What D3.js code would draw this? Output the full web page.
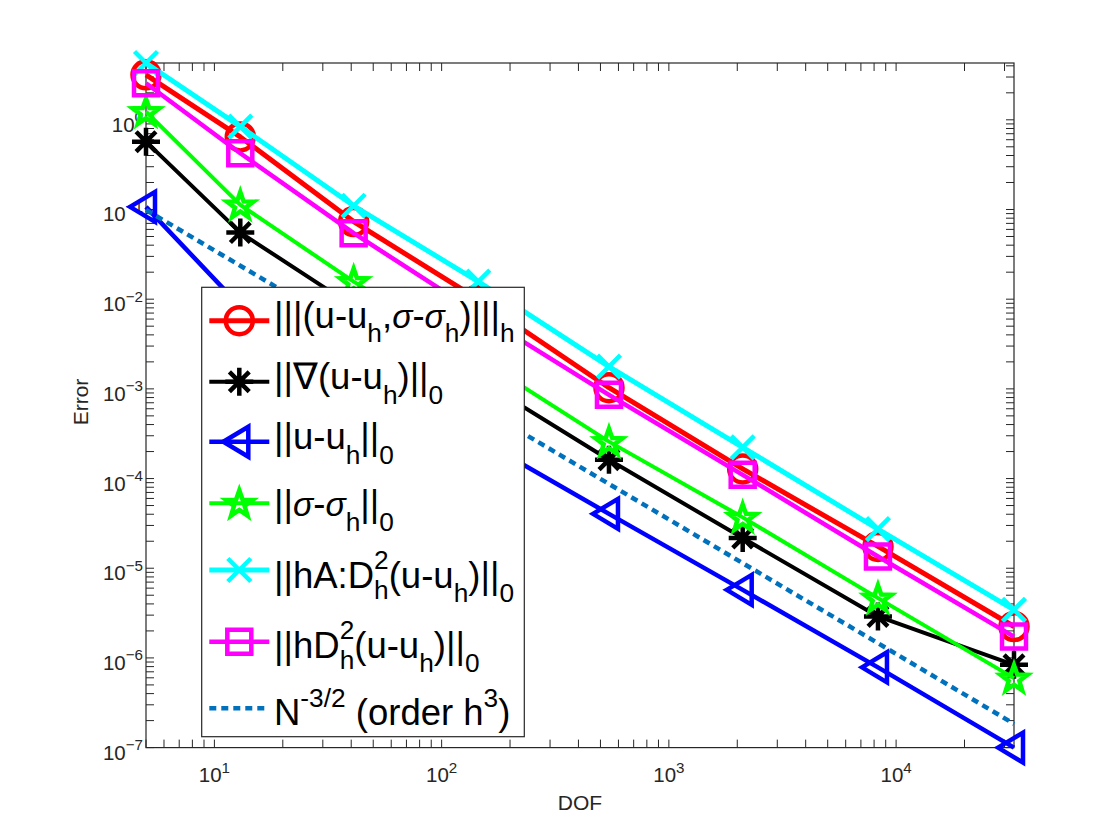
<!DOCTYPE html>
<html><head><meta charset="utf-8">
<script src="https://cdn.jsdelivr.net/npm/d3@7"></script>
<style>
body{margin:0;background:#fff}
svg{display:block}
text{font-family:"Liberation Sans",Arial,Helvetica,sans-serif}
</style>
</head><body>
<svg id="chart" width="1120" height="840"></svg>
<script>
// ---- data ----
const dof        = [5, 13, 41, 145, 545, 2113, 8321, 33025];
const errTriple  = [3.17, 0.645, 0.0733, 0.00993, 1.03e-3, 1.28e-4, 1.75e-5, 2.24e-6];
const errGrad    = [0.571, 0.0553, 8.25e-3, 1.29e-3, 1.62e-4, 2.17e-5, 2.90e-6, 8.38e-7];
const errL2      = [0.107, 8.31e-3, 1.65e-3, 2.77e-4, 4.04e-5, 5.74e-6, 7.85e-7, 1.0e-7];
const errSigma   = [1.234, 0.1125, 0.0157, 2.20e-3, 2.58e-4, 3.69e-5, 4.64e-6, 5.95e-7];
const errHA      = [4.3, 0.84, 0.110, 0.0157, 1.77e-3, 2.23e-4, 2.73e-5, 3.44e-6];
const errHD      = [2.56, 0.424, 0.0544, 6.91e-3, 8.57e-4, 1.10e-4, 1.35e-5, 1.73e-6];
const refLine    = [0.099, 0.0236, 4.22e-3, 6.34e-4, 8.70e-5, 1.14e-5, 1.46e-6, 1.84e-7];

const seriesLabels = [
  "|||(u-u_h,σ-σ_h)|||_h",
  "||∇(u-u_h)||_0",
  "||u-u_h||_0",
  "||σ-σ_h||_0",
  "||hA:D^2_h(u-u_h)||_0",
  "||hD^2_h(u-u_h)||_0",
  "N^{-3/2} (order h^3)"
];
const seriesColors  = ["#ff0000", "#000000", "#0000ff", "#00ff00", "#00ffff", "#ff00ff", "#0072bd"];
const seriesMarkers = ["circle", "asterisk", "triangleLeft", "pentagram", "times", "square", "none"];
const seriesWidths  = [5, 4, 4.5, 4, 5, 4.5, 4.5];
const seriesValues  = [errTriple, errGrad, errL2, errSigma, errHA, errHD, refLine];

const xTickExps = [1, 2, 3, 4];
const yTickExps = [-7, -6, -5, -4, -3, -2, -1, 0];
const xLabel = "DOF";
const yLabel = "Error";

// ---- layout ----
const L = 146, R = 1014, T = 63, B = 747.6;
const axisColor = "#262626";
const svg = d3.select("#chart");
svg.append("rect").attr("width", 1120).attr("height", 840).attr("fill", "#fff");

const allVals = seriesValues.flat();
const x = d3.scaleLog().domain(d3.extent(dof)).range([L, R]);
const y = d3.scaleLog().domain(d3.extent(allVals)).range([B, T]);

// ---- mini TeX renderer ----
function renderTex(g, str, x0, base, fs, opts = {}) {
  const supScale = opts.supScale || 0.72;
  const supShift = opts.supShift || 0.5;
  const subShift = opts.subShift || 0.38;
  const color = opts.color || "#000";
  const parts = [];
  let i = 0;
  while (i < str.length) {
    const c = str[i];
    if (c === "^" || c === "_") {
      let sup = null, sub = null;
      while (i < str.length && (str[i] === "^" || str[i] === "_")) {
        const k = str[i]; i++;
        let grp;
        if (str[i] === "{") { const j = str.indexOf("}", i); grp = str.slice(i + 1, j); i = j + 1; }
        else { grp = str[i]; i++; }
        if (k === "^") sup = grp; else sub = grp;
      }
      parts.push({ type: "s", sup, sub });
    } else {
      let j = i;
      while (j < str.length && str[j] !== "^" && str[j] !== "_") j++;
      parts.push({ type: "n", text: str.slice(i, j) });
      i = j;
    }
  }
  let cx = x0;
  const put = (txt, px, py, size) => {
    let w = 0;
    const runs = txt.split(/(σ)/).filter(s => s.length);
    runs.forEach(run => {
      const t = g.append("text")
        .attr("x", px + w).attr("y", py)
        .attr("font-size", size).attr("fill", color)
        .text(run.replace(/ /g, "\u00a0"));
      if (run === "σ") t.attr("font-style", "italic").attr("font-family", "'DejaVu Serif',serif").attr("font-size", size * 0.92);
      w += t.node().getComputedTextLength();
    });
    return w;
  };
  parts.forEach(p => {
    if (p.type === "n") {
      cx += put(p.text, cx, base, fs);
    } else {
      let w = 0;
      if (p.sup) w = Math.max(w, put(p.sup, cx, base - supShift * fs, fs * supScale));
      if (p.sub) w = Math.max(w, put(p.sub, cx, base + subShift * fs * (p.sup ? 0.8 : 1), fs * supScale));
      cx += w;
    }
  });
  return cx - x0;
}

// ---- axes (ticks inward on all sides) ----
const axG = svg.append("g");
const tickLen = 8;
const [yMin, yMax] = y.domain();
const [xMin, xMax] = x.domain();
const yMinor = [], xMinor = [];
for (let e = -8; e <= 1; e++) for (let m = 1; m <= 9; m++) {
  const v = m * Math.pow(10, e);
  if (v >= yMin * 0.9999 && v <= yMax) yMinor.push(v);
}
for (let e = 0; e <= 5; e++) for (let m = 1; m <= 9; m++) {
  const v = m * Math.pow(10, e);
  if (v >= xMin && v <= xMax) xMinor.push(v);
}
yMinor.forEach(v => {
  const yy = y(v);
  axG.append("line").attr("x1", L).attr("x2", L + tickLen).attr("y1", yy).attr("y2", yy);
  axG.append("line").attr("x1", R).attr("x2", R - tickLen).attr("y1", yy).attr("y2", yy);
});
xMinor.forEach(v => {
  const xx = x(v);
  axG.append("line").attr("x1", xx).attr("x2", xx).attr("y1", B).attr("y2", B - tickLen);
  axG.append("line").attr("x1", xx).attr("x2", xx).attr("y1", T).attr("y2", T + tickLen);
});
axG.selectAll("line").attr("stroke", axisColor).attr("stroke-width", 1);
axG.append("rect").attr("x", L).attr("y", T).attr("width", R - L).attr("height", B - T)
  .attr("fill", "none").attr("stroke", axisColor).attr("stroke-width", 1.2);

const tickFs = 20.5;
const expText = e => (e < 0 ? "\u2212" + (-e) : String(e));
yTickExps.forEach(e => {
  const yy = y(Math.pow(10, e));
  const g = axG.append("g");
  const w = renderTex(g, "10^{" + expText(e) + "}", 0, yy + 12, tickFs, { color: axisColor, supShift: 0.46, supScale: 0.74 });
  g.attr("transform", `translate(${L - 3 - w},0)`);
});
xTickExps.forEach(e => {
  const xx = x(Math.pow(10, e));
  const g = axG.append("g");
  const w = renderTex(g, "10^{" + expText(e) + "}", 0, B + 34.5, tickFs, { color: axisColor, supShift: 0.46, supScale: 0.74 });
  g.attr("transform", `translate(${xx - w / 2},0)`);
});
svg.append("text").attr("x", (L + R) / 2).attr("y", 810).attr("text-anchor", "middle")
  .attr("font-size", 21).attr("fill", axisColor).text(xLabel);
svg.append("text").attr("transform", "translate(88,402) rotate(-90)").attr("text-anchor", "middle")
  .attr("font-size", 21).attr("fill", axisColor).text(yLabel);

// ---- markers ----
function markerPath(type) {
  const p = d3.path();
  if (type === "circle") { const r = 13.5; p.moveTo(r, 0); p.arc(0, 0, r, 0, 2 * Math.PI); p.closePath(); }
  else if (type === "square") { const s = 12; p.rect(-s, -s, 2 * s, 2 * s); }
  else if (type === "triangleLeft") { p.moveTo(-16, 0); p.lineTo(9, -15); p.lineTo(9, 15); p.closePath(); }
  else if (type === "times") { const a = 11.5; p.moveTo(-a, -a); p.lineTo(a, a); p.moveTo(-a, a); p.lineTo(a, -a); }
  else if (type === "asterisk") {
    const r = 14, d = r * Math.SQRT1_2;
    p.moveTo(-r, 0); p.lineTo(r, 0); p.moveTo(0, -r); p.lineTo(0, r);
    p.moveTo(-d, -d); p.lineTo(d, d); p.moveTo(-d, d); p.lineTo(d, -d);
  } else if (type === "pentagram") {
    const R0 = 14, r0 = R0 * 0.4;
    for (let k = 0; k < 10; k++) {
      const ang = -Math.PI / 2 + k * Math.PI / 5, rr = k % 2 ? r0 : R0;
      const px = rr * Math.cos(ang), py = rr * Math.sin(ang) + 1;
      if (k === 0) p.moveTo(px, py); else p.lineTo(px, py);
    }
    p.closePath();
  }
  return p.toString();
}

// ---- series ----
const line = d3.line().x(d => x(d[0])).y(d => y(d[1]));
const dataG = svg.append("g");
seriesValues.forEach((vals, si) => {
  const pts = dof.map((d, k) => [d, vals[k]]);
  const g = dataG.append("g");
  const pl = g.append("path").attr("d", line(pts)).attr("fill", "none")
    .attr("stroke", seriesColors[si]).attr("stroke-width", seriesWidths[si])
    .attr("stroke-linejoin", "round");
  if (seriesMarkers[si] === "none") pl.attr("stroke-dasharray", "7,5");
  else {
    g.selectAll("path.m").data(pts).join("path").attr("class", "m")
      .attr("d", markerPath(seriesMarkers[si]))
      .attr("transform", d => `translate(${x(d[0])},${y(d[1])})`)
      .attr("fill", "none").attr("stroke", seriesColors[si]).attr("stroke-width", 4.5);
  }
});

// ---- legend ----
const legG = svg.append("g");
const legBox = { x: 201.7, y: 287.3, w: 322.6, h: 449.4 };
legG.append("rect").attr("x", legBox.x).attr("y", legBox.y).attr("width", legBox.w).attr("height", legBox.h)
  .attr("fill", "#fff").attr("stroke", axisColor).attr("stroke-width", 1.2);
const rowY = [320.7, 381.7, 441.7, 503.3, 570, 641.7, 708.3];
const baseOff = [7, 7.5, 7.5, 13, 17.5, 16, 17];
seriesLabels.forEach((lab, si) => {
  const yy = rowY[si];
  const ln = legG.append("line").attr("x1", 209.3).attr("x2", 269.3).attr("y1", yy).attr("y2", yy)
    .attr("stroke", seriesColors[si]).attr("stroke-width", seriesWidths[si]);
  if (seriesMarkers[si] === "none") ln.attr("stroke-dasharray", "7,5");
  else legG.append("path").attr("d", markerPath(seriesMarkers[si]))
    .attr("transform", `translate(239.3,${yy})`).attr("fill", "none")
    .attr("stroke", seriesColors[si]).attr("stroke-width", 4.5);
  renderTex(legG.append("g"), lab, 274, yy + baseOff[si], 36.5, { supShift: 0.5, subShift: 0.4 });
});
</script>
</body></html>
